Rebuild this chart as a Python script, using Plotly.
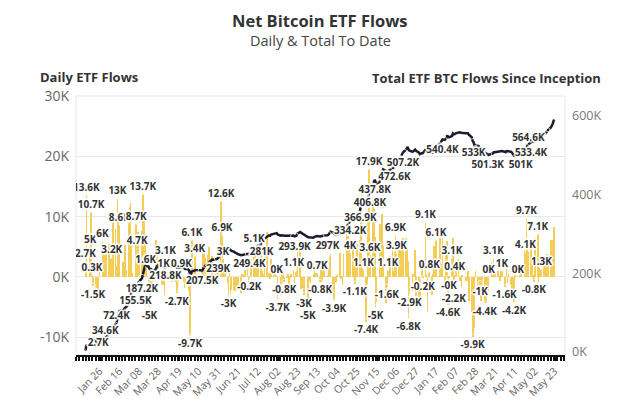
import numpy as np
import pandas as pd
import plotly.graph_objects as go

# ---------------- data (daily net flows, thousands of BTC) ----------------
HOLIDAYS = ["2024-01-15", "2024-02-19", "2024-03-29", "2024-05-27", "2024-06-19",
            "2024-07-04", "2024-09-02", "2024-11-28", "2024-12-25", "2025-01-01",
            "2025-01-09", "2025-01-20", "2025-02-17", "2025-04-18"]

flows_2024_01 = [2.7, 13.6, 5.0, 10.7, 0.3, -1.5, -2.5, -3.9, -1.2, -3.5, 1.8, 6.0, 2.3, 4.4]
flows_2024_02 = [0.4, 4.2, 5.5, 3.0, 2.6, 3.2, 9.5, 8.0, 1.8, 13.0, 10.0, 8.6, 2.5, 0.7, 5.3,
                 1.2, 9.2, 11.6, 12.2, 7.1]
flows_2024_03 = [0.6, 1.1, 8.7, 4.7, 7.4, 3.3, 7.6, 13.7, 10.5, 6.0, 1.6, -2.0, -5.0, -3.2,
                 1.5, -2.5, 0.3, 6.1, 3.4, 2.6]
flows_2024_04 = [-1.2, -1.3, 1.0, -3.0, 3.1, 0.8, -0.3, -0.1, 0.2, -0.8, -0.5, -0.9, -2.7,
                 -0.6, 0.1, 0.9, 0.1, -0.9, -1.8, -1.2, -0.5, -2.3]
flows_2024_05 = [-9.7, 0.1, 6.1, 3.4, 0.3, -0.2, -0.1, -1.4, -0.4, 1.1, 4.7, 3.9, 3.2, 3.6,
                 4.9, 1.6, 1.6, 3.5, 0.6, 0.3, 1.7, 1.9]
flows_2024_06 = [12.6, 6.9, 3.0, 1.7, 1.9, -1.0, -3.0, 1.5, -3.4, -2.1, -2.2, -2.4, -2.0,
                 -1.7, -2.6, 0.5, 0.4, 0.2, 1.2]
flows_2024_07 = [2.0, -0.9, -0.2, 3.0, 5.1, 3.7, 2.8, 1.3, 4.4, 4.5, 6.8, 0.9, 0.5, 5.2, 7.5,
                 0.3, 0.7, -0.3, 3.0, 1.9, 1.4, 0.3]
flows_2024_08 = [0.02, -3.7, -3.0, 1.2, -1.2, 0.6, -0.8, -0.1, 0.5, -1.3, -0.1, 0.5, 1.1,
                 -2.2, 0.8, 1.0, 5.0, 4.5, -2.0, -1.8, -1.2, -3.0]
flows_2024_09 = [-5.0, -0.6, -0.4, -1.0, 0.5, 2.0, 0.6, 0.6, 0.7, -0.8, 1.2, -0.9, 1.4, 0.9,
                 0.1, 0.4, 1.6, 3.3, 3.8, -2.3]
flows_2024_10 = [-3.9, -0.8, -0.9, 0.4, 3.9, -0.3, -0.3, -1.3, 3.8, 8.8, 5.8, 6.8, 4.8, 4.0,
                 4.9, 2.6, -1.1, 2.8, 5.5, 6.2, 11.8, 13.9, 1.5]
flows_2024_11 = [1.1, -7.4, -1.2, 10.5, 17.9, 3.6, 13.1, 11.3, 6.6, -5.0, -4.2, 2.9, 8.8, 8.4,
                 10.4, 5.2, -4.3, -1.6, 1.1, 3.4]
flows_2024_12 = [4.8, 0.9, 4.1, 6.9, 3.9, 4.8, 4.4, 2.2, 6.0, 6.4, 6.4, 5.2, 2.7, -6.8, -2.9,
                 -2.4, 0.5, 4.5, -3.1, -4.3, -4.1]
flows_2025_01 = [2.5, -0.2, 9.1, 0.5, -5.9, 0.8, -3.0, 0.5, 5.1, 3.6, 6.1, 6.5, 3.3, 2.1, 6.5,
                 -1.2, 5.4, 6.0, -4.6, -0.04]
flows_2025_02 = [3.1, 6.5, -2.2, 0.4, 2.4, 3.0, -0.6, -0.6, -1.6, 0.2, -0.7, -0.6, 0.9, -4.0,
                 -5.8, -9.9, -3.5, -8.4, 1.0]
flows_2025_03 = [-1.5, -1.9, -1.0, -4.0, -3.2, -4.4, -4.3, -1.6, -2.4, 0.03, 2.5, 0.3, 3.1,
                 0.2, 0.9, 1.0, 0.3, -0.6, 0.9, 1.0, -1.6]
flows_2025_04 = [-1.1, 2.6, -1.0, 0.5, -1.3, -3.9, -1.5, -4.2, 0.2, 0.02, 0.1, 0.3, 1.0, 4.5,
                 4.1, 9.7, 4.8, 4.1, 5.2, 2.0, 0.3]
flows_2025_05 = [-0.8, 6.5, 7.1, -0.9, 1.5, 1.2, 1.3, 2.5, 0.2, 3.2, 3.8, 3.3, 6.2, 3.1, 6.2,
                 8.3, 1.6]

month_spans = [("2024-01-11", "2024-01-31", flows_2024_01), ("2024-02-01", "2024-02-29", flows_2024_02),
               ("2024-03-01", "2024-03-31", flows_2024_03), ("2024-04-01", "2024-04-30", flows_2024_04),
               ("2024-05-01", "2024-05-31", flows_2024_05), ("2024-06-01", "2024-06-30", flows_2024_06),
               ("2024-07-01", "2024-07-31", flows_2024_07), ("2024-08-01", "2024-08-31", flows_2024_08),
               ("2024-09-01", "2024-09-30", flows_2024_09), ("2024-10-01", "2024-10-31", flows_2024_10),
               ("2024-11-01", "2024-11-30", flows_2024_11), ("2024-12-01", "2024-12-31", flows_2024_12),
               ("2025-01-01", "2025-01-31", flows_2025_01), ("2025-02-01", "2025-02-28", flows_2025_02),
               ("2025-03-01", "2025-03-31", flows_2025_03), ("2025-04-01", "2025-04-30", flows_2025_04),
               ("2025-05-01", "2025-05-23", flows_2025_05)]

# labelled bars (as visible in the chart)
bar_label_dates = ["2024-01-11", "2024-01-12", "2024-01-16", "2024-01-17", "2024-01-18", "2024-01-19",
                   "2024-01-29", "2024-02-08", "2024-02-14", "2024-02-16", "2024-03-05", "2024-03-06",
                   "2024-03-12", "2024-03-15", "2024-03-19", "2024-04-03", "2024-04-05", "2024-04-17",
                   "2024-04-22", "2024-05-01", "2024-05-03", "2024-05-06", "2024-06-03", "2024-06-04",
                   "2024-06-05", "2024-06-11", "2024-07-03", "2024-07-08", "2024-08-01", "2024-08-02",
                   "2024-08-09", "2024-08-19", "2024-08-30", "2024-09-03", "2024-09-13", "2024-09-16",
                   "2024-10-01", "2024-10-18", "2024-10-23", "2024-11-01", "2024-11-04", "2024-11-07",
                   "2024-11-08", "2024-11-14", "2024-11-26", "2024-11-27", "2024-12-05", "2024-12-06",
                   "2024-12-19", "2024-12-20", "2025-01-03", "2025-01-06", "2025-01-10", "2025-01-17",
                   "2025-01-30", "2025-01-31", "2025-02-03", "2025-02-05", "2025-02-06", "2025-02-25",
                   "2025-03-05", "2025-03-10", "2025-03-14", "2025-03-19", "2025-03-28", "2025-03-31",
                   "2025-04-10", "2025-04-14", "2025-04-22", "2025-04-23", "2025-05-01", "2025-05-05",
                   "2025-05-09"]
bar_label_texts = ["2.7K", "13.6K", "5K", "10.7K", "0.3K", "-1.5K", "6K", "3.2K", "13K", "8.6K",
                   "8.7K", "4.7K", "13.7K", "1.6K", "-5K", "1K", "3.1K", "-2.7K", "0.9K", "-9.7K",
                   "6.1K", "3.4K", "12.6K", "6.9K", "3K", "-3K", "-0.2K", "5.1K", "0K", "-3.7K",
                   "-0.8K", "1.1K", "-3K", "-5K", "0.7K", "-0.8K", "-3.9K", "4K", "-1.1K", "1.1K",
                   "-7.4K", "17.9K", "3.6K", "-5K", "-1.6K", "1.1K", "6.9K", "3.9K", "-6.8K", "-2.9K",
                   "-0.2K", "9.1K", "0.8K", "6.1K", "-4.6K", "-0K", "3.1K", "-2.2K", "0.4K", "-9.9K",
                   "-1K", "-4.4K", "0K", "3.1K", "1K", "-1.6K", "-4.2K", "0K", "4.1K", "9.7K",
                   "-0.8K", "7.1K", "1.3K"]

# labelled points of the running total
total_label_dates = ["2024-01-11", "2024-02-01", "2024-02-13", "2024-03-04", "2024-03-11", "2024-04-05",
                     "2024-05-14", "2024-05-31", "2024-07-03", "2024-07-16", "2024-08-20", "2024-09-24",
                     "2024-10-18", "2024-10-29", "2024-11-08", "2024-11-13", "2024-12-04", "2024-12-13",
                     "2025-01-24", "2025-02-26", "2025-03-13", "2025-04-17", "2025-04-28", "2025-05-16"]
total_label_texts = ["2.7K", "34.6K", "72.4K", "155.5K", "187.2K", "218.8K", "207.5K", "239K",
                     "249.4K", "281K", "293.9K", "297K", "334.2K", "366.9K", "406.8K", "437.8K",
                     "472.6K", "507.2K", "540.4K", "533K", "501.3K", "501K", "533.4K", "564.6K"]

tick_dates = ["2024-01-26", "2024-02-16", "2024-03-08", "2024-03-28", "2024-04-19", "2024-05-10",
              "2024-05-31", "2024-06-21", "2024-07-12", "2024-08-02", "2024-08-23", "2024-09-13",
              "2024-10-04", "2024-10-25", "2024-11-15", "2024-12-06", "2024-12-27", "2025-01-17",
              "2025-02-07", "2025-02-28", "2025-03-21", "2025-04-11", "2025-05-02", "2025-05-23"]

# ---------------- assemble ----------------
hol = pd.to_datetime(HOLIDAYS)
all_dates, all_flows = [], []
for start, end, vals in month_spans:
    d = pd.bdate_range(start, end)
    d = d[~d.isin(hol)]
    if len(d) != len(vals):
        raise ValueError(f"{start}: {len(d)} days vs {len(vals)} values")
    all_dates.extend(d)
    all_flows.extend(vals)

daily = pd.Series(all_flows, index=pd.DatetimeIndex(all_dates))
total = daily.cumsum()  # total since inception

bl_idx = pd.to_datetime(bar_label_dates)
bl_y = daily.loc[bl_idx].values
bl_pos = ["top center" if v >= 0 else "bottom center" for v in bl_y]
bl_pad = [1 if v >= 0 else 5 for v in bl_y]          # invisible marker -> label offset

tl_idx = pd.to_datetime(total_label_dates)
tl_y = total.loc[tl_idx].values
tl_pos = ["top right", "top center", "top center"] + ["bottom center"] * 20 + ["bottom left"]
tl_pad = [2, 2, 2] + [8] * 20 + [4]

FONT = "Open Sans"
HALO = ("2px 0 1px #fff, -2px 0 1px #fff, 0 2px 1px #fff, 0 -2px 1px #fff, "
        "1px 1px 1px #fff, -1px -1px 1px #fff, 1px -1px 1px #fff, -1px 1px 1px #fff")
Y_RANGE = [-12.95, 30.0]
LABEL_FONT = dict(family=FONT, size=10, color="#333333", weight="bold", shadow=HALO)
NOMARK = "rgba(0,0,0,0)"

fig = go.Figure()
fig.add_trace(go.Bar(x=daily.index, y=daily.values, marker=dict(color="#F3CD55", line=dict(width=0)),
                     width=86400000 * 0.75, yaxis="y", hoverinfo="skip"))
fig.add_trace(go.Scatter(x=total.index, y=total.values, mode="lines",
                         line=dict(color="#1c1c2e", width=2.5), yaxis="y2", hoverinfo="skip"))
fig.add_trace(go.Scatter(x=tl_idx, y=tl_y, mode="markers+text", text=total_label_texts,
                         textposition=tl_pos, marker=dict(size=tl_pad, color=NOMARK),
                         textfont=LABEL_FONT, yaxis="y2", cliponaxis=False, hoverinfo="skip"))
fig.add_trace(go.Scatter(x=bl_idx, y=bl_y, mode="markers+text", text=bar_label_texts,
                         textposition=bl_pos, marker=dict(size=bl_pad, color=NOMARK),
                         textfont=LABEL_FONT, yaxis="y3", cliponaxis=True, hoverinfo="skip"))

fig.update_layout(
    width=640, height=399, margin=dict(l=76, r=75, t=96, b=44, autoexpand=False),
    paper_bgcolor="white", plot_bgcolor="white", showlegend=False,
    font=dict(family=FONT, color="#444"),
    bargap=0,
    xaxis=dict(type="date", range=["2024-01-01", "2025-06-03"], tickmode="array",
               tickvals=tick_dates, tickformat="%b %d", tickangle=-45,
               tickfont=dict(size=10.5, color="#666"), ticks="outside", ticklen=4, tickwidth=2,
               tickcolor="#111", showline=True, linecolor="#111", linewidth=2, showgrid=False,
               zeroline=False,
               minor=dict(ticks="outside", dtick=302400000, tick0="2024-01-01", ticklen=4,
                          tickwidth=2, tickcolor="#111", showgrid=False)),
    yaxis=dict(range=Y_RANGE, tickvals=[-10, 0, 10, 20, 30],
               ticktext=["-10K", "0K", "10K", "20K", "30K"], tickfont=dict(size=14, color="#666"),
               showgrid=True, gridcolor="#e8e8e8", gridwidth=1, zeroline=False, ticks="",
               ticklabelstandoff=6),
    yaxis2=dict(overlaying="y", side="right", range=[-7.6, 650.9], tickvals=[0, 200, 400, 600],
                ticktext=["0K", "200K", "400K", "600K"], tickfont=dict(size=12.5, color="#777"),
                showgrid=False, zeroline=False, ticks="", ticklabelstandoff=6),
    yaxis3=dict(overlaying="y", range=Y_RANGE, visible=False),
    shapes=[dict(type="rect", xref="paper", yref="paper", x0=0, x1=1, y0=0, y1=1,
                 line=dict(color="#e8e8e8", width=1), layer="below")],
    annotations=[
        dict(text="<b>Net Bitcoin ETF Flows</b>", xref="paper", yref="paper", x=0.499, y=1.2934,
             xanchor="center", yanchor="middle", showarrow=False,
             font=dict(family=FONT, size=16.5, color="#333")),
        dict(text="Daily & Total To Date", xref="paper", yref="paper", x=0.499, y=1.2162,
             xanchor="center", yanchor="middle", showarrow=False,
             font=dict(family=FONT, size=14.5, color="#444")),
        dict(text="<b>Daily ETF Flows</b>", xref="paper", yref="paper", x=-0.0777, y=1.075,
             xanchor="left", yanchor="middle", showarrow=False,
             font=dict(family=FONT, size=13, color="#333")),
        dict(text="<b>Total ETF BTC Flows Since Inception</b>", xref="paper", yref="paper",
             x=1.0777, y=1.068, xanchor="right", yanchor="middle", showarrow=False,
             font=dict(family=FONT, size=13, color="#333")),
    ],
)

fig.write_html("out.html", config={"displayModeBar": False},
               post_script="document.body.style.margin='0';document.body.style.padding='0';")
